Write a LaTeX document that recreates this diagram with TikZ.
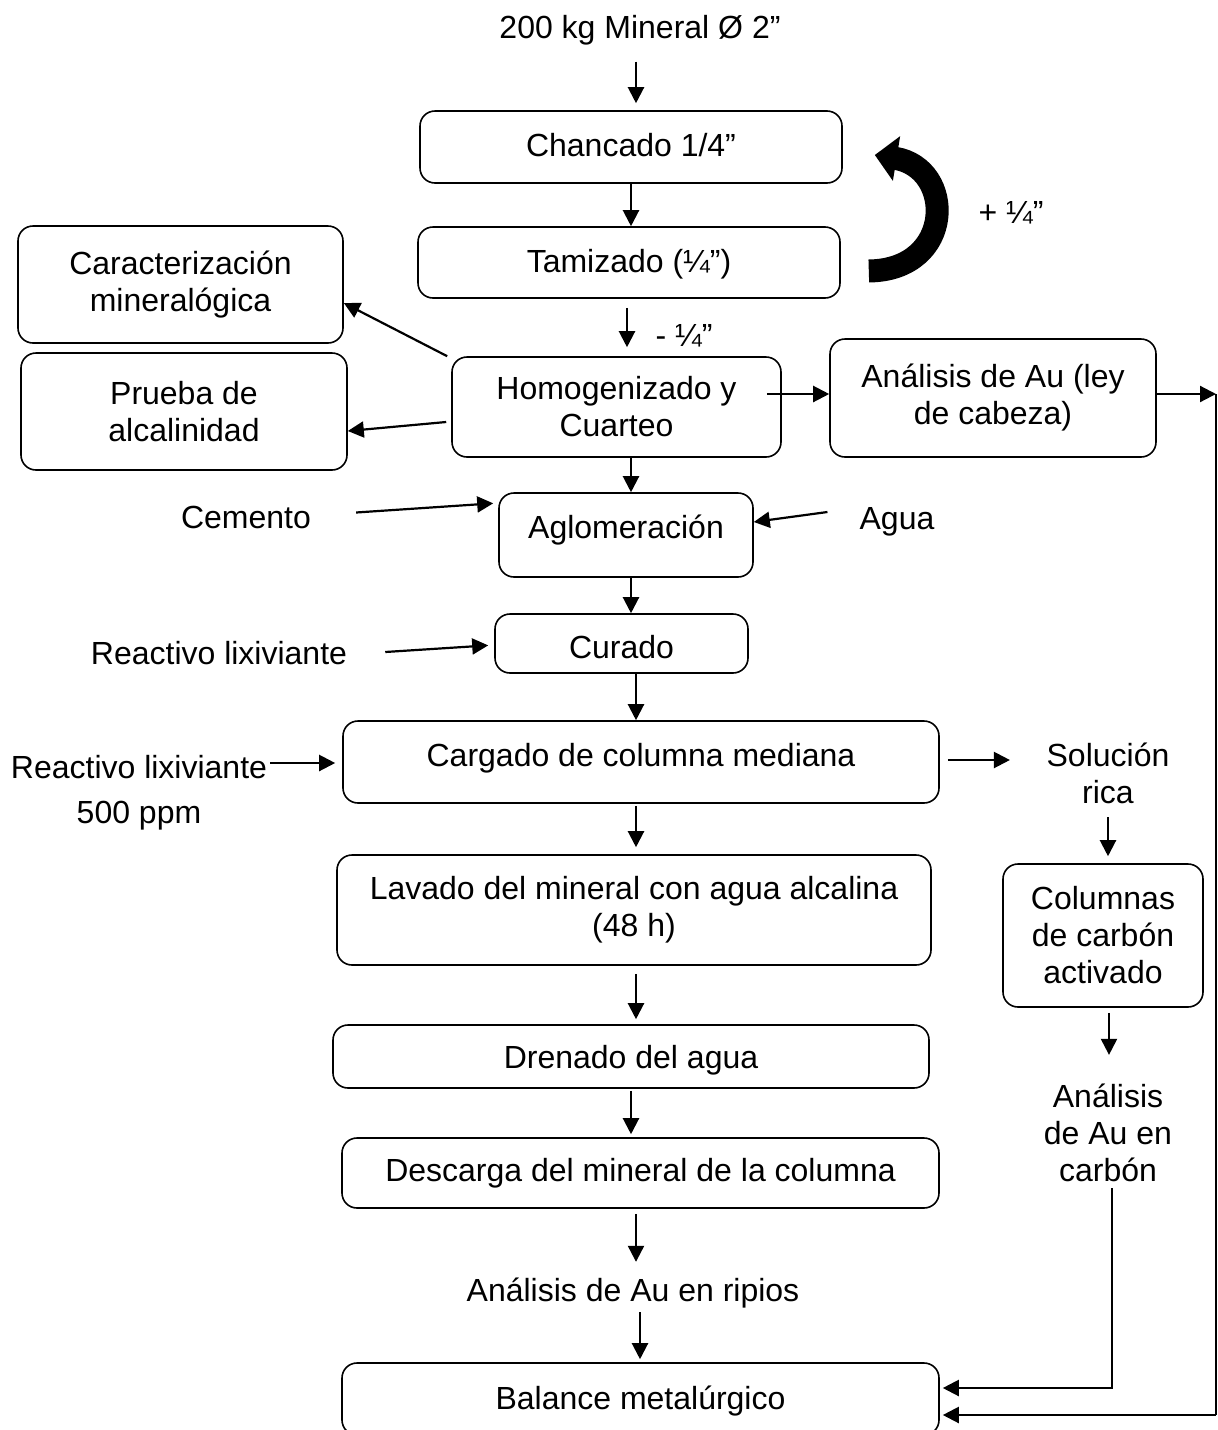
\documentclass[tikz,border=0pt]{standalone}
\usepackage{fontspec}
\setmainfont{Liberation Sans}
\usetikzlibrary{arrows.meta}
\begin{document}
\begin{tikzpicture}[x=1pt,y=-1pt,
  every node/.style={font=\fontsize{32}{37}\selectfont},
  box/.style={draw, line width=1.6pt, rounded corners=15pt, inner sep=0pt, align=center, text height=23pt, text depth=4pt},
  mbox/.style={draw, line width=1.6pt, rounded corners=15pt, inner sep=0pt, align=center},
  txt/.style={inner sep=0pt, text height=23pt, text depth=7pt},
  mtxt/.style={inner sep=0pt, align=center},
  arr/.style={line width=2.2pt, -{Triangle[length=16pt,width=16pt]}},
  bigarr/.style={line width=23pt, -{Triangle[length=22pt,width=44pt]}}
]
\path[use as bounding box] (0,0) rectangle (1218,1430);
\clip (0,0) rectangle (1218,1430);

% boxes
\node[box, minimum width=422pt, minimum height=72pt] (chan) at (631,147) {Chancado 1/4”};
\node[box, minimum width=422pt, minimum height=71pt] (tam) at (629,262.5) {Tamizado (¼”)};
\node[mbox, minimum width=325pt, minimum height=117pt] (carac) at (180.5,284.5) {Caracterización\\mineralógica};
\node[mbox, minimum width=326pt, minimum height=117pt] (prueba) at (184,411.5) {Prueba de\\alcalinidad};
\node[mbox, minimum width=329pt, minimum height=100pt] (hom) at (616.5,407) {Homogenizado y\\Cuarteo};
\node[mbox, minimum width=326pt, minimum height=118pt] (ana) at (993,398) {Análisis de Au (ley\\de cabeza)};
\node[box, text depth=16pt, minimum width=254pt, minimum height=84pt] (agl) at (626,535) {Aglomeración};
\node[box, text height=30pt, text depth=0pt, minimum width=253pt, minimum height=59pt] (cur) at (621.5,643.5) {Curado};
\node[box, text depth=14pt, minimum width=596pt, minimum height=82pt] (carg) at (641,762) {Cargado de columna mediana};
\node[mbox, minimum width=200pt, minimum height=143pt] (col) at (1103,935.5) {Columnas\\de carbón\\activado};
\node[mbox, minimum width=594pt, minimum height=110pt] (lav) at (634,910) {Lavado del mineral con agua alcalina\\(48 h)};
\node[box, text depth=0pt, minimum width=596pt, minimum height=63pt] (dre) at (631,1056.5) {Drenado del agua};
\node[box, text depth=6pt, minimum width=597pt, minimum height=70pt] (des) at (640.5,1173) {Descarga del mineral de la columna};
\node[box, text depth=2pt, minimum width=597pt, minimum height=72pt] (bal) at (640.5,1399) {Balance metalúrgico};

% free texts
\node[txt] (top) at (640,30.5) {200 kg Mineral Ø 2”};
\node[txt] (plus) at (1011,215.5) {+ ¼”};
\node[txt] (minus) at (684,338.5) {- ¼”};
\node[txt] (cem) at (246,520.5) {Cemento};
\node[txt] (agua) at (897,521.5) {Agua};
\node[txt] (rl1) at (219,656.5) {Reactivo lixiviante};
\node[txt] (rl2) at (139,770.5) {Reactivo lixiviante};
\node[txt] (ppm) at (139,815.5) {500 ppm};
\node[mtxt] (sol) at (1108,773) {Solución\\rica};
\node[mtxt] (anc) at (1108,1133) {Análisis\\de Au en\\carbón};
\node[txt] (anr) at (633,1293.5) {Análisis de Au en ripios};

% vertical main flow
\draw[arr, shorten <=16pt, shorten >=7pt] ([xshift=-4pt]top.south) -- ([xshift=5pt]chan.north);
\draw[arr] (chan.south) -- ([xshift=2pt]tam.north);
\draw[arr, shorten <=9pt, shorten >=9pt] ([xshift=-2pt]tam.south) -- ([xshift=10.5pt]hom.north);
\draw[arr] ([xshift=14.5pt]hom.south) -- ([xshift=5pt]agl.north);
\draw[arr] ([xshift=5pt]agl.south) -- ([xshift=9.5pt]cur.north);
\draw[arr] ([xshift=14.5pt]cur.south) -- ([xshift=-5pt]carg.north);
\draw[arr, shorten <=2pt, shorten >=7pt] ([xshift=-5pt]carg.south) -- ([xshift=2pt]lav.north);
\draw[arr, shorten <=8pt, shorten >=5pt] ([xshift=2pt]lav.south) -- ([xshift=5pt]dre.north);
\draw[arr, shorten <=2pt, shorten >=3pt] (dre.south) -- ([xshift=-9.5pt]des.north);
\draw[arr, shorten <=5pt, shorten >=16.5pt] ([xshift=-4.5pt]des.south) -- ([xshift=3pt]anr.north);
\draw[arr, shorten <=3.5pt, shorten >=3pt] ([xshift=7pt]anr.south) -- ([xshift=-0.5pt]bal.north);

% side branches
\draw[arr] ([xshift=-4pt]hom.north west) -- ([yshift=-18.5pt]carac.east);
\draw[arr] ([xshift=-5pt,yshift=-15pt]hom.west) -- ([yshift=-19.5pt]prueba.east);
\draw[arr] ([xshift=-15pt,yshift=13pt]hom.east) -- ([yshift=4pt]ana.west);
\coordinate (rtop) at (1216,394);
\coordinate (rbot) at (1216,1415);
\draw[arr] ([yshift=4pt]ana.east) -- (rtop);
\draw[line width=2.2pt] (rtop) -- (rbot);
\draw[arr, shorten >=3pt] (rbot) -- ([yshift=-16pt]bal.east);

\draw[arr, shorten >=5pt] ([xshift=45pt,yshift=8pt]cem.east) -- ([yshift=32pt]agl.west);
\draw[arr] ([xshift=-32pt,yshift=9.5pt]agua.west) -- ([yshift=13pt]agl.east);
\draw[arr, shorten >=6pt] ([xshift=38pt,yshift=4.5pt]rl1.east) -- ([yshift=-1.5pt]cur.west);
\draw[arr, shorten >=7pt] ([xshift=3pt,yshift=7.5pt]rl2.east) -- ([yshift=-1pt]carg.west);

% right column
\draw[arr, shorten >=36.5pt] ([xshift=8pt,yshift=2pt]carg.east) -- ([yshift=13pt]sol.west);
\draw[arr, shorten <=13.5pt, shorten >=7pt] (sol.south) -- ([xshift=5pt]col.north);
\draw[arr, shorten <=5pt, shorten >=29pt] ([xshift=6pt]col.south) -- ([xshift=1pt]anc.north);
\draw[arr, shorten >=3pt] ([xshift=4pt,yshift=-6pt]anc.south) |- ([yshift=11pt]bal.east);

% recycle arrow
\coordinate (ctail) at ([xshift=28pt,yshift=-8.5pt]tam.east);
\coordinate (chead) at ([xshift=32pt,yshift=-8pt]chan.east);
\draw[bigarr] (ctail) .. controls (955,270) and (955,168) .. (chead);
\end{tikzpicture}
\end{document}
